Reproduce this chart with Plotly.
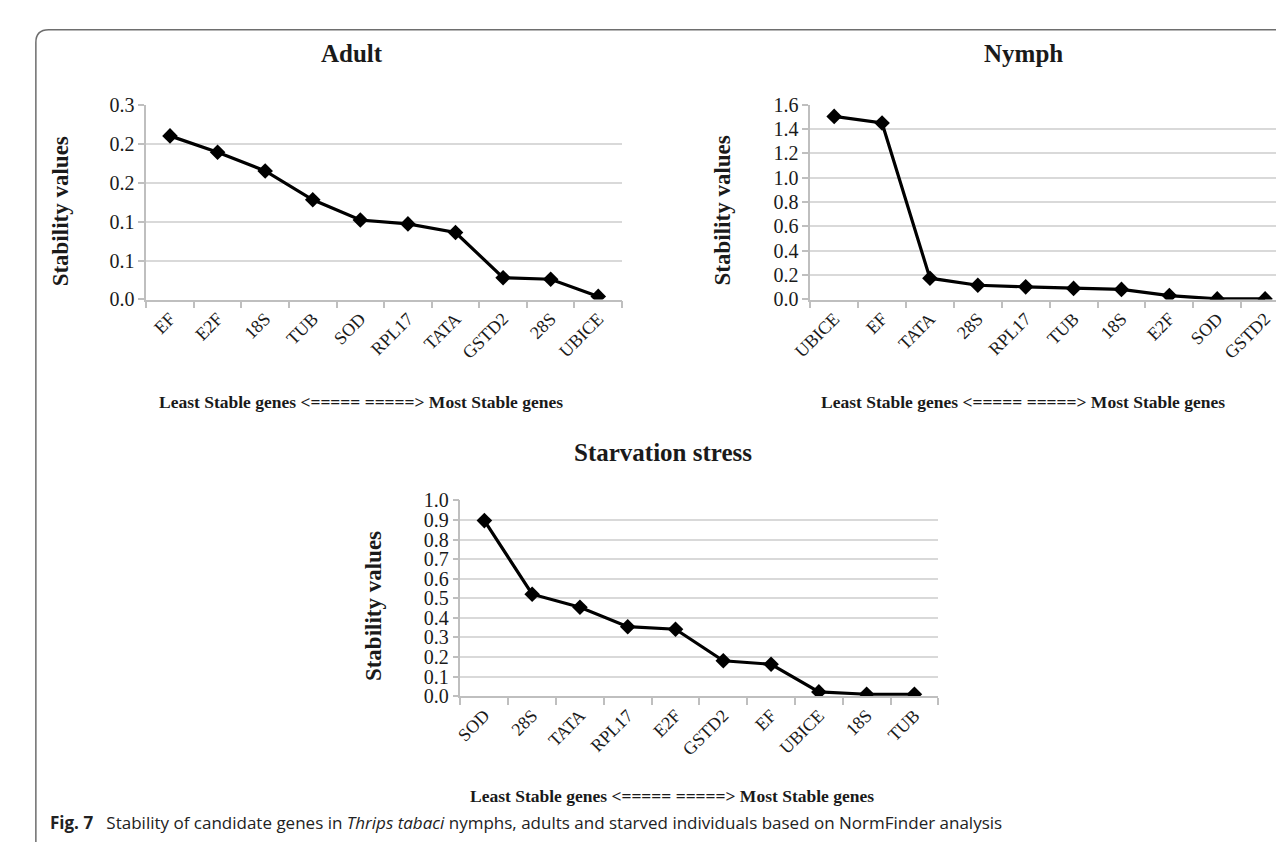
import plotly.graph_objects as go

W, H = 1284, 845

# ---- data ----
adult_genes = ["EF", "E2F", "18S", "TUB", "SOD", "RPL17", "TATA", "GSTD2", "28S", "UBICE"]
adult_vals = [0.210, 0.189, 0.165, 0.128, 0.102, 0.097, 0.086, 0.028, 0.026, 0.004]

nymph_genes = ["UBICE", "EF", "TATA", "28S", "RPL17", "TUB", "18S", "E2F", "SOD", "GSTD2"]
nymph_vals = [1.504, 1.450, 0.175, 0.117, 0.104, 0.091, 0.083, 0.032, 0.005, 0.005]

starv_genes = ["SOD", "28S", "TATA", "RPL17", "E2F", "GSTD2", "EF", "UBICE", "18S", "TUB"]
starv_vals = [0.897, 0.521, 0.454, 0.355, 0.342, 0.181, 0.163, 0.022, 0.010, 0.010]

adult_ticks = [0, 0.05, 0.10, 0.15, 0.20, 0.25]
adult_ticktext = ["0.0", "0.1", "0.1", "0.2", "0.2", "0.3"]

titles = ["Adult", "Nymph", "Starvation stress"]
y_title = "Stability values"
x_title = "Least Stable genes &lt;===== =====&gt; Most Stable genes"
caption = ("<b>Fig. 7</b>\u00a0\u00a0\u00a0Stability of candidate genes in <i>Thrips tabaci</i> nymphs, "
           "adults and starved individuals based on NormFinder analysis")

# ---- helpers ----
def px_x(x):
    return x / W

def px_y(y):
    return 1 - y / H

SERIF = "Liberation Serif, Times New Roman, serif"
GRID = "#d9d9d9"
AX = "#bfbfbf"
TXT = "#1a1a1a"

fig = go.Figure()

panels = [
    (adult_genes, adult_vals, "x", "y", (121, 604), (88, 288)),
    (nymph_genes, nymph_vals, "x2", "y2", (795, 1281), (88, 288)),
    (starv_genes, starv_vals, "x3", "y3", (440, 925), (494.3, 695.3)),
]

for genes, vals, xa, ya, _, _ in panels:
    fig.add_trace(go.Scatter(
        x=genes, y=vals, xaxis=xa, yaxis=ya, mode="lines+markers",
        line=dict(color="black", width=3.2),
        marker=dict(symbol="diamond", size=12, color="black"),
        showlegend=False, hoverinfo="x+y",
    ))

layout = dict(
    width=W, height=H, margin=dict(l=0, r=0, t=0, b=0),
    paper_bgcolor="white", plot_bgcolor="white", showlegend=False,
)

y_ranges = [[0, 0.25], [0, 1.6], [0, 1.0]]
for i, (genes, vals, xa, ya, (x0, x1), (y0, y1)) in enumerate(panels):
    xk = "xaxis" if i == 0 else f"xaxis{i+1}"
    yk = "yaxis" if i == 0 else f"yaxis{i+1}"
    layout[xk] = dict(
        domain=[px_x(x0), px_x(x1)], anchor=ya, type="category",
        categoryorder="array", categoryarray=genes,
        showline=True, linecolor=AX, linewidth=1.5,
        ticks="outside", tickson="boundaries", ticklen=7, tickcolor=AX, tickwidth=1.5,
        tickangle=-45, showgrid=False, zeroline=False,
        tickfont=dict(family=SERIF, size=18, color=TXT),
        range=[-0.5, len(genes) - 0.5],
    )
    ycfg = dict(
        domain=[px_y(y1), px_y(y0)], anchor=xa, range=y_ranges[i],
        showline=True, linecolor=AX, linewidth=1.5,
        ticks="outside", ticklen=6, tickcolor=AX, tickwidth=1.5,
        showgrid=True, gridcolor=GRID, gridwidth=1.5, zeroline=False,
        tickfont=dict(family=SERIF, size=20, color=TXT),
    )
    if i == 0:
        ycfg.update(tickmode="array", tickvals=adult_ticks, ticktext=adult_ticktext)
    elif i == 1:
        ycfg.update(dtick=0.2, tickformat=".1f", tick0=0)
    else:
        ycfg.update(dtick=0.1, tickformat=".1f", tick0=0)
    layout[yk] = ycfg

fig.update_layout(**layout)

# titles / axis titles as annotations
title_pos = [(330, 35), (1011, 35), (646, 445)]
ytitle_pos = [(34, 197), (706, 197), (351, 603)]
xtitle_pos = [(339, 393), (1011, 393), (655, 798)]

ann = []
for i in range(3):
    tx, ty = title_pos[i]
    ann.append(dict(text=f"<b>{titles[i]}</b>", x=px_x(tx), y=px_y(ty), xref="paper", yref="paper",
                    showarrow=False, xanchor="center", yanchor="middle",
                    font=dict(family=SERIF, size=25, color=TXT)))
    yx, yy = ytitle_pos[i]
    ann.append(dict(text=f"<b>{y_title}</b>", x=px_x(yx), y=px_y(yy), xref="paper", yref="paper",
                    showarrow=False, xanchor="center", yanchor="middle", textangle=-90,
                    font=dict(family=SERIF, size=23, color=TXT)))
    xx, xy = xtitle_pos[i]
    ann.append(dict(text=f"<b>{x_title}</b>", x=px_x(xx), y=px_y(xy), xref="paper", yref="paper",
                    showarrow=False, xanchor="center", yanchor="middle",
                    font=dict(family=SERIF, size=17.5, color=TXT)))

ann.append(dict(text=caption, x=px_x(21), y=px_y(825), xref="paper", yref="paper",
                showarrow=False, xanchor="left", yanchor="middle",
                font=dict(family="Open Sans, Noto Sans, sans-serif", size=17, color="#222")))
fig.update_layout(annotations=ann)

# outer frame: top and left edge with rounded corner
path = (f"M 1.0,{px_y(11)} L {px_x(22)},{px_y(11)} "
        f"Q {px_x(9)},{px_y(11)} {px_x(9)},{px_y(24)} L {px_x(9)},0")
fig.add_shape(type="path", path=path, xref="paper", yref="paper",
              line=dict(color="#6e6e6e", width=1.5))

fig.write_html("out.html")
